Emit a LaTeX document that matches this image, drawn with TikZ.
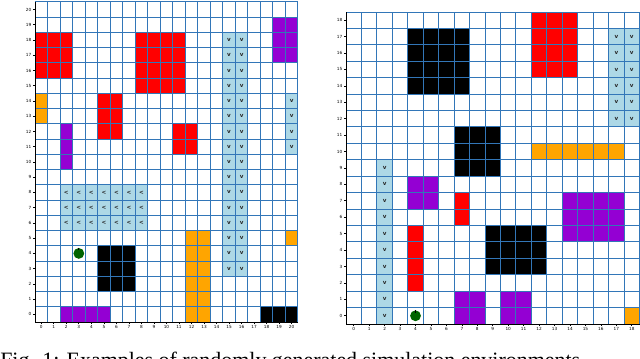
\documentclass[tikz,border=0pt]{standalone}
\usepackage{fontspec}
\setmainfont{Liberation Serif}
\newfontfamily\tickfont{DejaVu Sans}
\definecolor{gridblue}{RGB}{50,118,184}
\definecolor{cellred}{RGB}{255,0,0}
\definecolor{cellorange}{RGB}{255,165,0}
\definecolor{cellpurple}{RGB}{148,0,211}
\definecolor{cellflow}{RGB}{173,216,230}
\definecolor{agentgreen}{RGB}{0,100,0}
\tikzset{
  gridline/.style={draw=gridblue,line width=0.7pt},
  spine/.style={draw=black,line width=0.5pt},
  ticklabel/.style={font=\tickfont\fontsize{3}{3}\selectfont,inner sep=1pt},
  flowmark/.style={font=\tickfont\bfseries\fontsize{4}{4}\selectfont,inner sep=0,text=black!85},
  agent/.style={circle,fill=agentgreen,minimum size=0.27cm,inner sep=0},
  caption/.style={font=\fontsize{15.6}{18}\selectfont,inner sep=0}
}
\newcommand{\block}[5]{% c1, r1, c2, r2, colour   (filled run of cells)
  \fill[#5] (#1,#2) rectangle (#3+1,#4+1);}
\newcommand{\southmark}[3]{% col, row, name   (flow cell, pointing down)
  \node[flowmark] (#3) at (#1+0.5,#2+0.5) {v};}
\newcommand{\westmark}[3]{% col, row, name   (flow cell, pointing left)
  \node[flowmark] (#3) at (#1+0.5,#2+0.5) {<};}
\newcommand{\gridaxes}[2]{% cells per side, name prefix   (grid lines, spines, ticks)
  \foreach \i in {0,...,#1} {
    \draw[gridline] (\i,0) -- (\i,#1);
    \draw[gridline] (0,\i) -- (#1,\i);
  }
  \draw[spine] (0,#1) -- (0,0) -- (#1,0);
  \pgfmathtruncatemacro{\lastcell}{#1-1}
  \foreach \k in {0,...,\lastcell} {
    \draw[spine] (\k+0.5,0) -- ++(0,-0.05cm) node[ticklabel,below] (#2x\k) {\k};
    \draw[spine] (0,\k+0.5) -- ++(-0.05cm,0) node[ticklabel,left] (#2y\k) {\k};
  }}

\begin{document}
\begin{tikzpicture}
  \useasboundingbox (0,0) rectangle (16,8.95);
  \clip (0,0) rectangle (16,8.95);
  % left map, 21 x 21
  \begin{scope}[shift={(0.875cm,0.9cm)},x=0.3130cm,y=0.3810cm]
    \block{0}{16}{2}{18}{cellred}
    \block{8}{15}{11}{18}{cellred}
    \block{19}{17}{20}{19}{cellpurple}
    \block{0}{13}{0}{14}{cellorange}
    \block{5}{12}{6}{14}{cellred}
    \block{2}{10}{2}{12}{cellpurple}
    \block{11}{11}{12}{12}{cellred}
    \block{15}{3}{16}{18}{cellflow}
    \block{20}{11}{20}{14}{cellflow}
    \block{2}{6}{8}{8}{cellflow}
    \block{5}{2}{7}{4}{black}
    \block{2}{0}{5}{0}{cellpurple}
    \block{12}{0}{13}{5}{cellorange}
    \block{20}{5}{20}{5}{cellorange}
    \block{18}{0}{20}{0}{black}
    \gridaxes{21}{l}
    % flow cells
    \foreach \r in {3,...,18} {\foreach \c in {15,16} {\southmark{\c}{\r}{lf\c-\r}}}
    \foreach \r in {11,...,14} {\southmark{20}{\r}{lg\r}}
    \foreach \r in {6,7,8} {\foreach \c in {2,...,8} {\westmark{\c}{\r}{lh\c-\r}}}
    \node[agent] (agentL) at (3.5,4.5) {};
    \draw[line width=0.6pt] (agentL.north) -- ++(0,-0.06cm);
  \end{scope}
  % right map, 19 x 19
  \begin{scope}[shift={(8.65cm,0.85cm)},x=0.3862cm,y=0.4105cm]
    \block{4}{14}{7}{17}{black}
    \block{7}{9}{9}{11}{black}
    \block{12}{15}{14}{18}{cellred}
    \block{17}{12}{18}{17}{cellflow}
    \block{12}{10}{17}{10}{cellorange}
    \block{2}{0}{2}{9}{cellflow}
    \block{4}{7}{5}{8}{cellpurple}
    \block{7}{6}{7}{7}{cellred}
    \block{4}{2}{4}{5}{cellred}
    \block{7}{0}{8}{1}{cellpurple}
    \block{10}{0}{11}{1}{cellpurple}
    \block{9}{3}{12}{5}{black}
    \block{14}{5}{17}{7}{cellpurple}
    \block{18}{0}{18}{0}{cellorange}
    \gridaxes{19}{r}
    % flow cells
    \foreach \r in {12,...,17} {\foreach \c in {17,18} {\southmark{\c}{\r}{rf\c-\r}}}
    \foreach \r in {0,...,9} {\southmark{2}{\r}{rg\r}}
    \node[agent] (agentR) at (4.5,0.5) {};
    \draw[line width=0.6pt] (agentR.north) -- ++(0,-0.06cm);
  \end{scope}
  \node[caption,anchor=base west] (cap) at (0,-0.23)
    {Fig. 1: Examples of randomly generated simulation environments.};
\end{tikzpicture}
\end{document}
